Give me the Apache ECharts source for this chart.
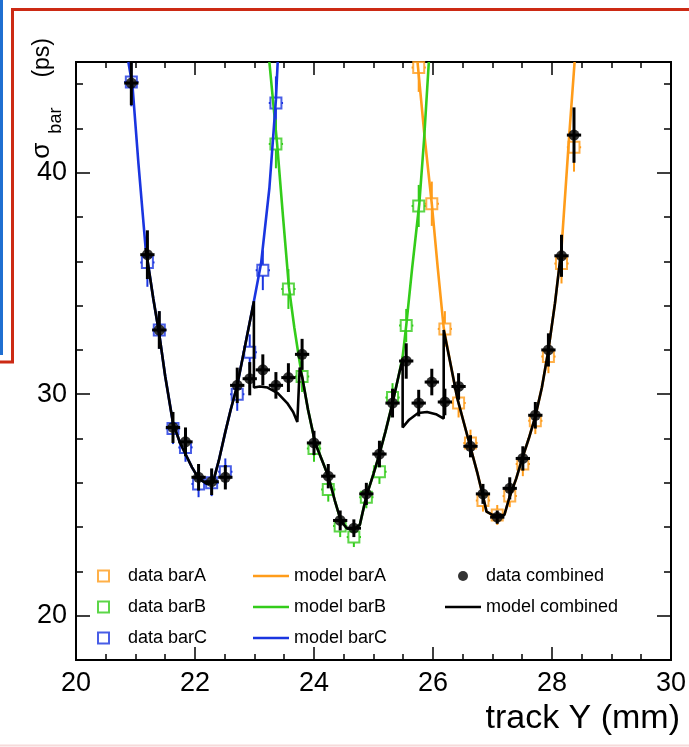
<!DOCTYPE html>
<html>
<head>
<meta charset="utf-8">
<script src="https://cdn.jsdelivr.net/npm/echarts@6/dist/echarts.min.js"></script>
<style>
  html, body { margin: 0; padding: 0; background: #fff; }
  #chart { width: 689px; height: 747px; }
</style>
</head>
<body>
<div id="chart"></div>
<script>
const FONT = '"Liberation Sans", Arial, Helvetica, sans-serif';
const COL_A = '#ff9c1a';
const COL_B = '#33cc1a';
const COL_C = '#1a35e0';

// Combined measurement: track Y (mm), sigma_bar (ps), uncertainty (ps)
const combX = [20.93, 21.20, 21.40, 21.63, 21.84, 22.06, 22.28, 22.51, 22.71, 22.92, 23.14, 23.36,
               23.57, 23.80, 24.00, 24.24, 24.44, 24.67, 24.88, 25.10, 25.32, 25.55, 25.76, 25.98,
               26.20, 26.43, 26.63, 26.84, 27.08, 27.29, 27.51, 27.72, 27.94, 28.16, 28.37];
const combY = [44.05, 36.3, 32.9, 28.5, 27.85, 26.25, 26.05, 26.25, 30.4, 30.7, 31.1, 30.4,
               30.75, 31.8, 27.8, 26.3, 24.3, 23.95, 25.5, 27.3, 29.6, 31.5, 29.6, 30.55,
               29.65, 30.35, 27.65, 25.5, 24.45, 25.75, 27.1, 29.05, 32.0, 36.25, 41.7];
const combErr = [1.0, 1.1, 0.85, 0.7, 0.65, 0.6, 0.6, 0.55, 0.8, 0.75, 0.7, 0.6,
                 0.65, 0.7, 0.55, 0.55, 0.45, 0.4, 0.5, 0.6, 0.65, 0.8, 0.6, 0.6,
                 0.6, 0.6, 0.5, 0.45, 0.3, 0.5, 0.55, 0.6, 0.75, 0.95, 1.25];

// Single-bar measurements
const barAX = [25.76, 25.98, 26.20, 26.43, 26.63, 26.84, 27.08, 27.29, 27.51, 27.72, 27.94, 28.16, 28.37];
const barAY = [44.75, 38.6, 32.95, 29.6, 27.8, 25.2, 24.55, 25.4, 26.85, 28.8, 31.7, 35.9, 41.15];
const barAErr = [1.1, 1.0, 0.8, 0.65, 0.6, 0.5, 0.45, 0.5, 0.55, 0.6, 0.75, 0.9, 1.1];

const barBX = [23.36, 23.57, 23.80, 24.00, 24.24, 24.44, 24.67, 24.88, 25.10, 25.32, 25.55, 25.76];
const barBY = [41.3, 34.75, 30.8, 27.55, 25.7, 24.05, 23.55, 25.35, 26.5, 29.85, 33.1, 38.5];
const barBErr = [1.1, 0.9, 0.7, 0.6, 0.55, 0.5, 0.45, 0.5, 0.55, 0.65, 0.75, 0.95];

const barCX = [20.93, 21.20, 21.40, 21.63, 21.84, 22.06, 22.28, 22.51, 22.71, 22.92, 23.14, 23.36];
const barCY = [44.1, 35.95, 32.9, 28.45, 27.6, 25.95, 26.0, 26.5, 30.0, 31.9, 35.6, 43.15];
const barCErr = [1.1, 1.1, 0.85, 0.7, 0.65, 0.6, 0.6, 0.6, 0.75, 0.8, 0.9, 1.2];

// Model curves, [track Y, sigma]
const modelA = [[25.74, 45], [25.86, 41.6], [25.98, 38.6], [26.08, 35.7], [26.18, 33.0], [26.3, 31.3],
                [26.41, 29.8], [26.52, 28.7], [26.63, 27.6], [26.75, 26.4], [26.84, 25.4], [26.9, 24.7],
                [27.0, 24.55], [27.2, 24.55], [27.28, 25.3], [27.4, 26.2], [27.5, 27.1], [27.61, 28.0],
                [27.72, 29.0], [27.83, 30.3], [27.94, 32.0], [28.05, 34.1], [28.16, 36.6], [28.29, 41.7],
                [28.38, 45]];
const modelB = [[23.25, 45], [23.38, 41.3], [23.48, 38.0], [23.58, 34.8], [23.67, 33.0], [23.75, 31.6],
                [23.8, 30.8], [23.9, 29.3], [24.02, 27.8], [24.13, 27.05], [24.24, 26.3], [24.35, 25.2],
                [24.45, 24.3], [24.55, 23.95], [24.67, 23.9], [24.77, 24.1], [24.88, 25.4], [25.0, 26.4],
                [25.1, 27.3], [25.2, 28.3], [25.32, 29.6], [25.42, 30.8], [25.49, 31.7], [25.55, 33.1],
                [25.65, 35.7], [25.77, 38.6], [25.85, 41.5], [25.93, 45]];
const modelC = [[20.88, 45], [20.95, 43.9], [21.05, 40.4], [21.17, 36.6], [21.3, 34.3], [21.4, 32.7],
                [21.5, 30.8], [21.63, 28.7], [21.75, 27.8], [21.84, 27.3], [21.95, 26.7], [22.06, 26.2],
                [22.2, 25.95], [22.3, 26.0], [22.4, 27.0], [22.51, 28.3], [22.6, 29.3], [22.71, 30.4],
                [22.85, 32.3], [22.99, 34.2], [23.11, 35.9], [23.25, 39.3], [23.36, 43.3], [23.39, 45]];
const modelComb = [[21.17, 36.6], [21.3, 34.3], [21.4, 32.7], [21.5, 30.8], [21.63, 28.7], [21.75, 27.8],
                   [21.84, 27.3], [21.95, 26.7], [22.06, 26.2], [22.2, 25.95], [22.3, 26.0], [22.4, 27.0],
                   [22.51, 28.3], [22.6, 29.3], [22.71, 30.4], [22.85, 32.3], [22.99, 34.2], [22.99, 30.3],
                   [23.09, 30.35], [23.22, 30.3], [23.39, 30.05], [23.55, 29.6], [23.65, 29.2], [23.72, 28.75],
                   [23.76, 31.2], [23.8, 30.8], [23.9, 29.3], [24.02, 27.8], [24.13, 27.05], [24.24, 26.3],
                   [24.35, 25.2], [24.45, 24.3], [24.55, 23.95], [24.67, 23.9], [24.77, 24.1], [24.88, 25.4],
                   [25.0, 26.4], [25.1, 27.3], [25.2, 28.3], [25.32, 29.6], [25.42, 30.8], [25.49, 31.6],
                   [25.49, 28.5], [25.6, 28.85], [25.75, 29.15], [25.9, 29.2], [26.05, 29.1], [26.18, 28.9],
                   [26.18, 32.9], [26.3, 31.3], [26.41, 29.8], [26.52, 28.7], [26.63, 27.6], [26.75, 26.4],
                   [26.84, 25.4], [26.9, 24.7], [27.0, 24.55], [27.2, 24.55], [27.28, 25.3], [27.4, 26.2],
                   [27.5, 27.1], [27.61, 28.0], [27.72, 29.0], [27.83, 30.3], [27.94, 32.0], [28.05, 34.1],
                   [28.16, 36.6]];

// Axis ticks
const yMajorTicks = [20, 30, 40];
const xRange = [20, 30];
const yRange = [18, 45];

const X_ERR = 0.12;   // horizontal bin half-width drawn on each point

function pts(xs, ys) { return xs.map((x, i) => [x, ys[i]]); }

// Vertical uncertainty + horizontal half-width bars; 'gap' leaves the marker interior open
function errorSeries(xs, ys, es, color, width, gap, z) {
  return {
    type: 'custom',
    silent: true,
    z: z,
    data: xs.map((x, i) => [x, ys[i], es[i]]),
    renderItem(params, api) {
      const x = api.value(0), y = api.value(1), e = api.value(2);
      const cs = params.coordSys;
      const clampY = v => Math.max(cs.y, Math.min(cs.y + cs.height, v));
      const c = api.coord([x, y]);
      const hi = api.coord([x, y + e]);
      const lo = api.coord([x, y - e]);
      const l = api.coord([x - X_ERR, y]);
      const r = api.coord([x + X_ERR, y]);
      const style = { stroke: color, lineWidth: width, lineCap: 'butt' };
      const kids = [];
      const seg = (x1, y1, x2, y2) => kids.push({ type: 'line', shape: { x1, y1, x2, y2 }, style });
      const yTop = clampY(hi[1]), yA = clampY(c[1] - gap);
      if (yA > yTop) seg(c[0], yTop, c[0], yA);
      const yB = clampY(c[1] + gap), yBot = clampY(lo[1]);
      if (yBot > yB) seg(c[0], yB, c[0], yBot);
      if (c[1] >= cs.y && c[1] <= cs.y + cs.height) {
        seg(l[0], c[1], c[0] - gap, c[1]);
        seg(c[0] + gap, c[1], r[0], c[1]);
      }
      return { type: 'group', children: kids };
    }
  };
}

function squareSeries(name, xs, ys, color) {
  return {
    name, type: 'scatter', z: 4, color,
    symbol: 'emptyRect', symbolSize: 11,
    itemStyle: { color: color, borderColor: color, borderWidth: 1.6 },
    data: pts(xs, ys)
  };
}

function modelSeries(name, data, color, z) {
  return {
    name, type: 'line', z, color,
    showSymbol: false, symbol: 'none', smooth: false,
    lineStyle: { color, width: 2.6 },
    itemStyle: { color },
    data
  };
}

const axisText = { fontFamily: FONT, fontSize: 27, color: '#000' };
const lineAxis = { show: true, onZero: false, lineStyle: { color: '#000', width: 2 } };

const chart = echarts.init(document.getElementById('chart'), null, { renderer: 'canvas' });

const legendText = { fontFamily: FONT, fontSize: 18, color: '#000' };
const lineIcon = 'path://M0,0L36,0L36,2.6L0,2.6Z';

chart.setOption({
  backgroundColor: '#fff',
  animation: false,
  grid: { left: 76, right: 12, top: 62, bottom: 87 },
  xAxis: [
    {
      type: 'value', position: 'bottom', min: xRange[0], max: xRange[1], interval: 2,
      axisLine: lineAxis,
      axisTick: { inside: true, length: 13, lineStyle: { color: '#000', width: 1.5 } },
      minorTick: { show: true, splitNumber: 4, length: 6, lineStyle: { color: '#000', width: 1.5 } },
      splitLine: { show: false },
      axisLabel: Object.assign({ margin: 10 }, axisText)
    },
    {
      type: 'value', position: 'top', min: xRange[0], max: xRange[1], interval: 2,
      axisLine: lineAxis,
      axisTick: { inside: true, length: 13, lineStyle: { color: '#000', width: 1.5 } },
      minorTick: { show: true, splitNumber: 4, length: 6, lineStyle: { color: '#000', width: 1.5 } },
      splitLine: { show: false },
      axisLabel: { show: false }
    }
  ],
  yAxis: [
    {
      type: 'value', position: 'left', min: yRange[0], max: yRange[1], interval: 2,
      axisLine: lineAxis,
      axisTick: { inside: true, length: 7, lineStyle: { color: '#000', width: 1.5 } },
      splitLine: { show: false },
      axisLabel: { show: false }
    },
    {
      type: 'value', position: 'left', min: yRange[0], max: yRange[1],
      axisLine: lineAxis,
      axisTick: { inside: true, length: 14, customValues: yMajorTicks, lineStyle: { color: '#000', width: 1.5 } },
      splitLine: { show: false },
      axisLabel: Object.assign({ margin: 9, customValues: yMajorTicks }, axisText)
    },
    {
      type: 'value', position: 'right', min: yRange[0], max: yRange[1], interval: 2,
      axisLine: lineAxis,
      axisTick: { inside: true, length: 7, lineStyle: { color: '#000', width: 1.5 } },
      splitLine: { show: false },
      axisLabel: { show: false }
    },
    {
      type: 'value', position: 'right', min: yRange[0], max: yRange[1],
      axisLine: lineAxis,
      axisTick: { inside: true, length: 14, customValues: yMajorTicks, lineStyle: { color: '#000', width: 1.5 } },
      splitLine: { show: false },
      axisLabel: { show: false }
    }
  ],
  legend: [
    {
      orient: 'vertical', left: 97, top: 567, padding: 0, itemGap: 13,
      itemWidth: 25, itemHeight: 11, selectedMode: false, textStyle: legendText,
      data: [
        { name: 'data barA', icon: 'emptySquare' },
        { name: 'data barB', icon: 'emptySquare' },
        { name: 'data barC', icon: 'emptySquare' }
      ]
    },
    {
      orient: 'vertical', left: 253, top: 567, padding: 0, itemGap: 13,
      itemWidth: 36, itemHeight: 11, selectedMode: false, textStyle: legendText,
      data: [
        { name: 'model barA', icon: lineIcon },
        { name: 'model barB', icon: lineIcon },
        { name: 'model barC', icon: lineIcon }
      ]
    },
    {
      orient: 'vertical', left: 445, top: 567, padding: 0, itemGap: 13,
      itemWidth: 36, itemHeight: 10, selectedMode: false, textStyle: legendText,
      data: [
        { name: 'data combined', icon: 'circle' },
        { name: 'model combined', icon: lineIcon }
      ]
    }
  ],
  graphic: [
    { type: 'line', silent: true, shape: { x1: 1.5, y1: 0, x2: 1.5, y2: 355 },
      style: { stroke: '#1f6fd1', lineWidth: 3 } },
    { type: 'polyline', silent: true, shape: { points: [[689, 9.5], [12.5, 9.5], [12.5, 362], [0, 362]] },
      style: { stroke: '#cc2a14', lineWidth: 3, fill: null } },
    { type: 'line', silent: true, shape: { x1: 0, y1: 745.5, x2: 689, y2: 745.5 },
      style: { stroke: '#f6dada', lineWidth: 2 } },
    {
      type: 'text', silent: true, x: 47, y: 38, rotation: Math.PI / 2,
      style: {
        text: '{s|σ}{b|bar}{p|(ps)}',
        textAlign: 'right', textVerticalAlign: 'middle',
        fill: '#000',
        rich: {
          s: { fontFamily: FONT, fontSize: 26, padding: [0, 9, 10, 0], verticalAlign: 'bottom' },
          b: { fontFamily: FONT, fontSize: 18, verticalAlign: 'bottom' },
          p: { fontFamily: FONT, fontSize: 23, padding: [0, 0, 11, 30], verticalAlign: 'bottom' }
        }
      }
    },
    {
      type: 'text', silent: true, x: 680, y: 719,
      style: { text: 'track Y (mm)', fontFamily: FONT, fontSize: 34, fill: '#000',
               textAlign: 'right', textVerticalAlign: 'middle' }
    }
  ],
  series: [
    errorSeries(barCX, barCY, barCErr, COL_C, 2, 5.5, 2),
    errorSeries(barBX, barBY, barBErr, COL_B, 2, 5.5, 2),
    errorSeries(barAX, barAY, barAErr, COL_A, 2, 5.5, 2),
    squareSeries('data barA', barAX, barAY, COL_A),
    squareSeries('data barB', barBX, barBY, COL_B),
    squareSeries('data barC', barCX, barCY, COL_C),
    modelSeries('model barA', modelA, COL_A, 5),
    modelSeries('model barB', modelB, COL_B, 5),
    modelSeries('model barC', modelC, COL_C, 5),
    modelSeries('model combined', modelComb, '#000', 6),
    errorSeries(combX, combY, combErr, '#000', 3, 0, 7),
    {
      name: 'data combined', type: 'scatter', z: 8, color: '#000',
      symbol: 'circle', symbolSize: 11,
      itemStyle: { color: '#000' },
      data: pts(combX, combY)
    }
  ]
});
</script>
</body>
</html>
